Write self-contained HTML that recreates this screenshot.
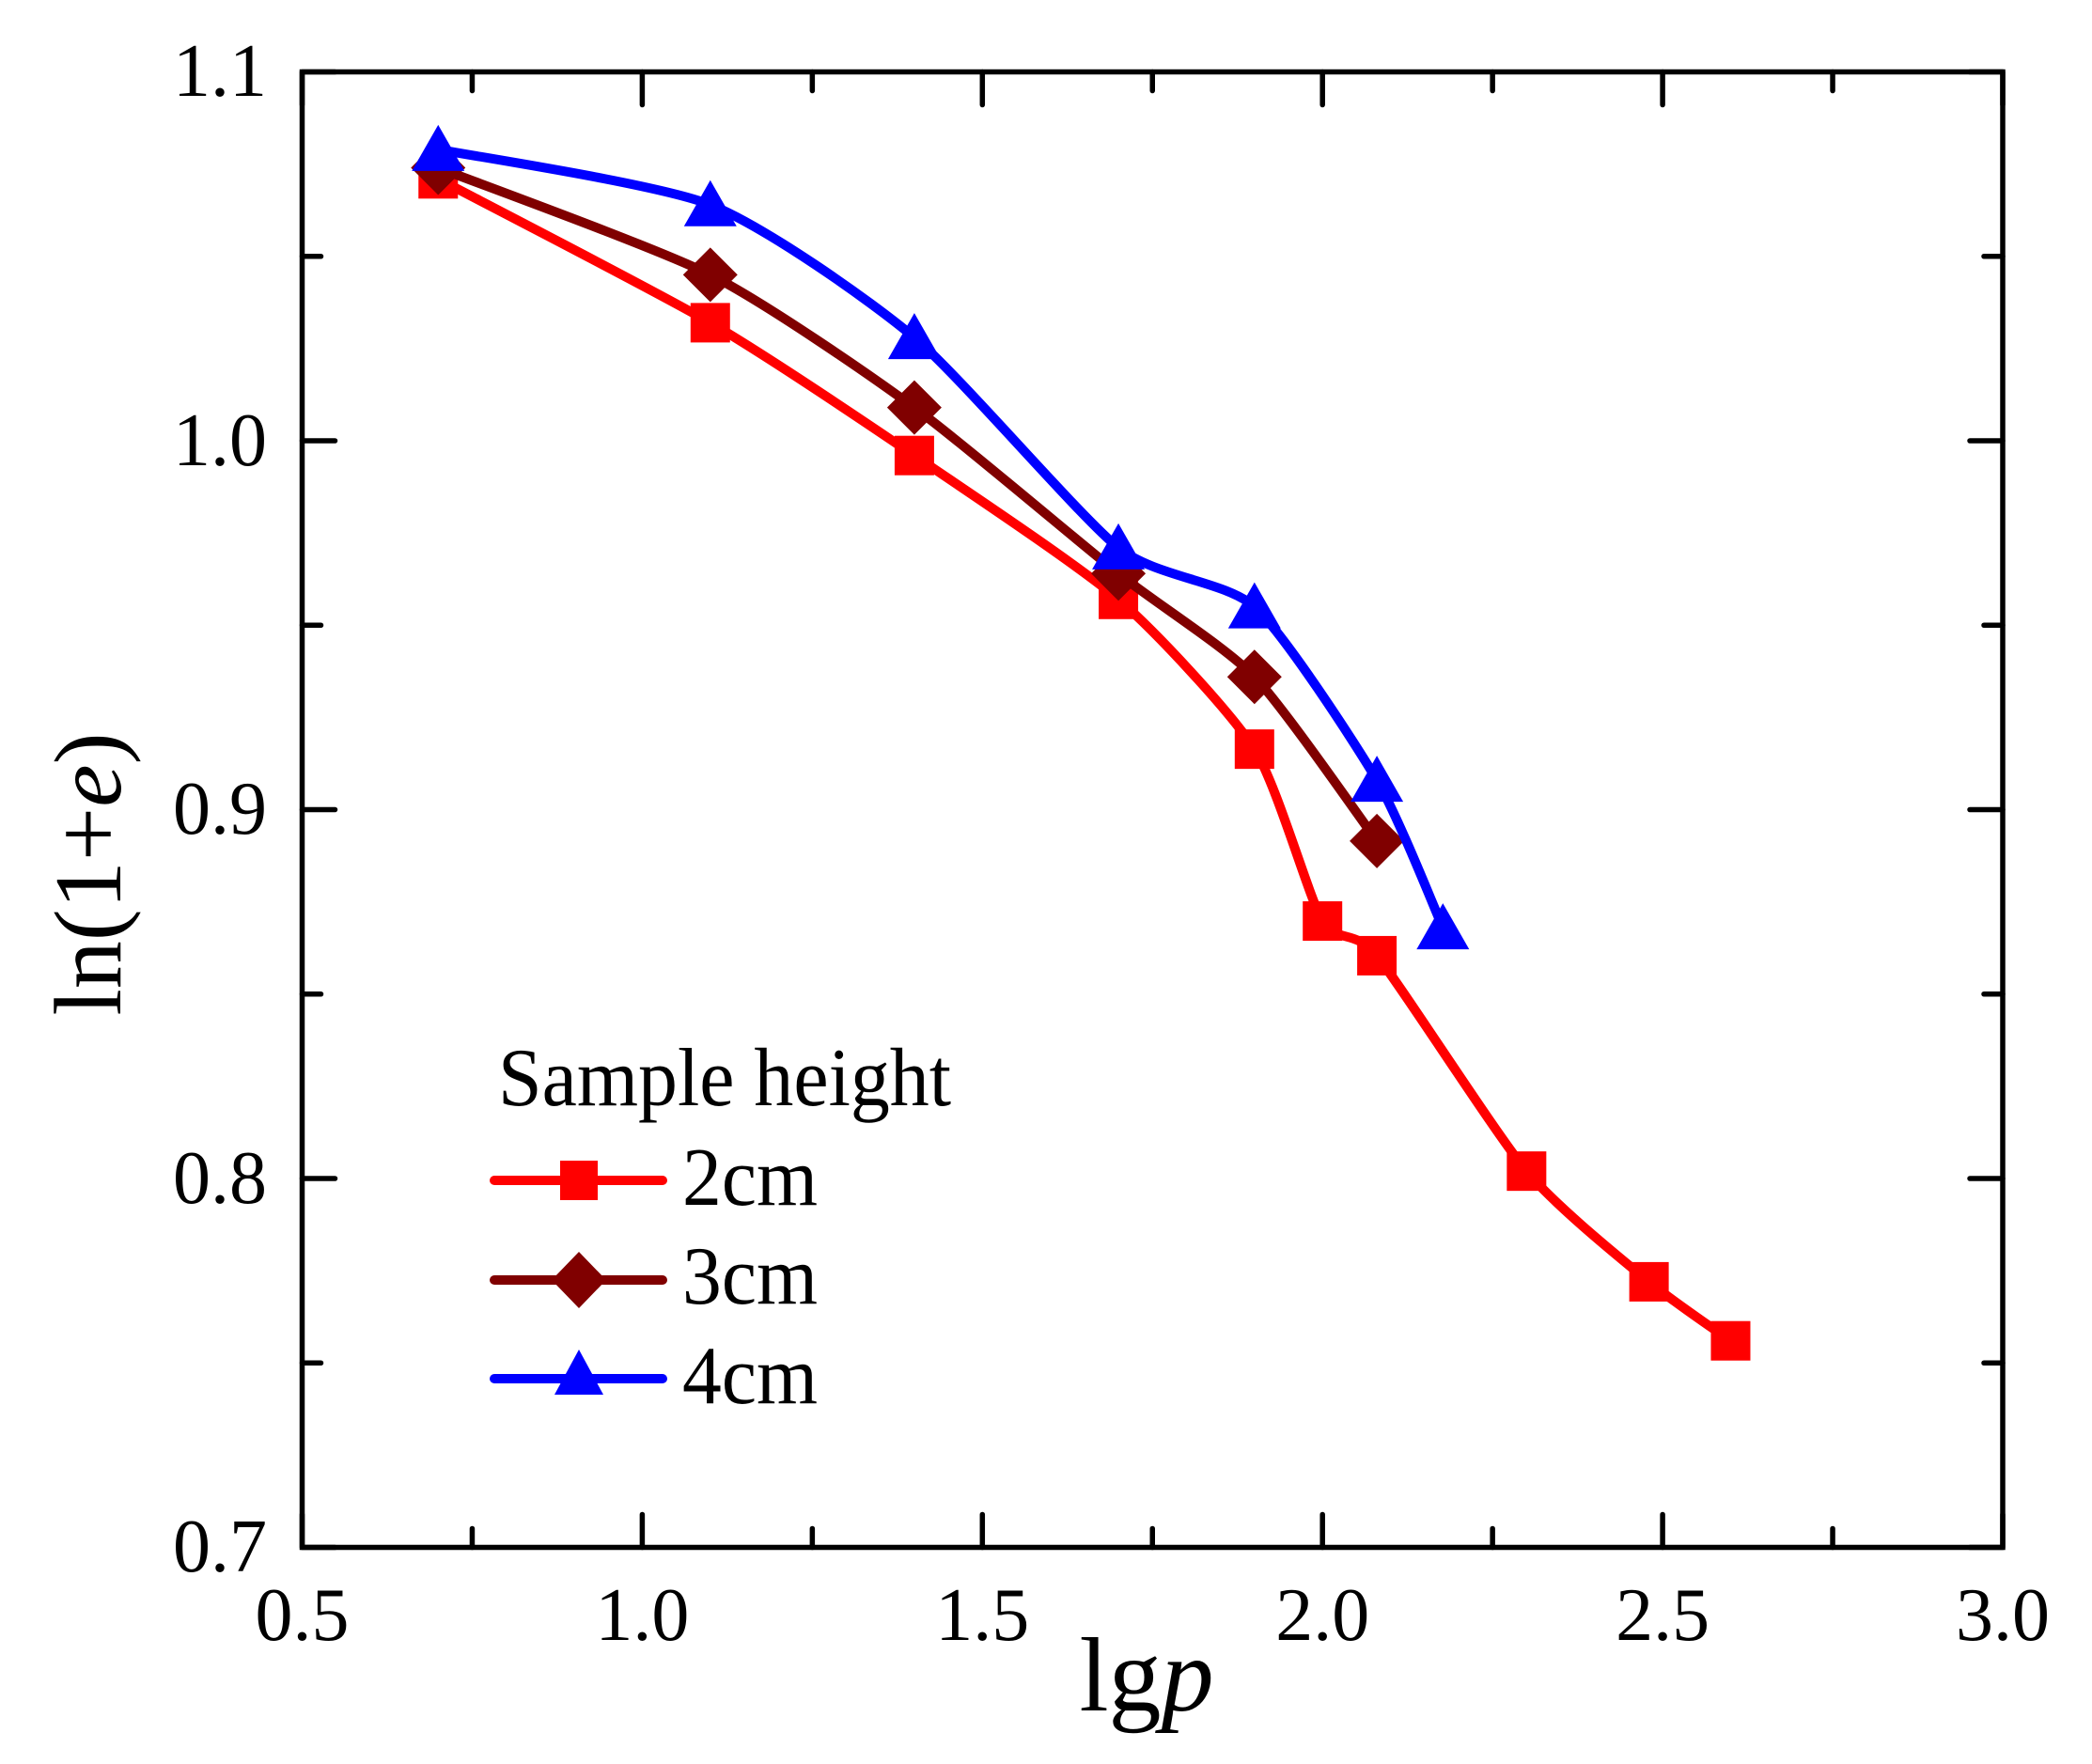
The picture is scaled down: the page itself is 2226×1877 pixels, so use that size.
<!DOCTYPE html>
<html><head><meta charset="utf-8"><style>
html,body{margin:0;padding:0;background:#fff;}
svg{display:block;}
text{font-family:"Liberation Serif",serif;fill:#000;}
</style></head><body>
<svg id="s" width="2226" height="1877" viewBox="0 0 2226 1877" xmlns="http://www.w3.org/2000/svg">
<rect width="2226" height="1877" fill="#fff"/>
<g id="plot"></g>
<rect x="321.5" y="76.5" width="1809.5" height="1570" fill="none" stroke="#000" stroke-width="5.5"/>
<g font-size="80" text-anchor="end">
<text x="284" y="102">1.1</text>
<text x="284" y="495">1.0</text>
<text x="284" y="887">0.9</text>
<text x="284" y="1280">0.8</text>
<text x="284" y="1672">0.7</text>
</g>
<g font-size="80" text-anchor="middle">
<text x="321.5" y="1745">0.5</text>
<text x="683.4" y="1745">1.0</text>
<text x="1045.3" y="1745">1.5</text>
<text x="1407.2" y="1745">2.0</text>
<text x="1769.1" y="1745">2.5</text>
<text x="2131" y="1745">3.0</text>
</g>
<text x="1220" y="1820" font-size="112" text-anchor="middle">lg<tspan font-style="italic">p</tspan></text>
<text transform="translate(128,930) rotate(-90)" font-size="102" text-anchor="middle">ln(1+<tspan font-style="italic">e</tspan>)</text>
<text x="530" y="1176" font-size="88" textLength="482" lengthAdjust="spacingAndGlyphs">Sample height</text>
<text x="726" y="1282" font-size="88" textLength="144" lengthAdjust="spacingAndGlyphs">2cm</text>
<text x="726" y="1387" font-size="88" textLength="144" lengthAdjust="spacingAndGlyphs">3cm</text>
<text x="726" y="1493" font-size="88" textLength="144" lengthAdjust="spacingAndGlyphs">4cm</text>
<g stroke-linecap="round" stroke-width="10">
<line x1="526" y1="1256" x2="705" y2="1256" stroke="#ff0000"/>
<line x1="526" y1="1362" x2="705" y2="1362" stroke="#800000"/>
<line x1="526" y1="1467" x2="705" y2="1467" stroke="#0000ff"/>
</g>
<rect x="596" y="1235" width="40" height="42" fill="#ff0000"/>
<polygon points="616,1332 645,1362 616,1392 587,1362" fill="#800000"/>
<polygon points="616,1436 642,1484 590,1484" fill="#0000ff"/>
</svg>
<script>
(function(){
var g=document.getElementById('plot');
var NS='http://www.w3.org/2000/svg';
function X(v){return 321.5+(v-0.5)*723.8;}
function Y(v){return 76.5+(1.1-v)*3925;}
function el(n,a){var e=document.createElementNS(NS,n);for(var k in a)e.setAttribute(k,a[k]);g.appendChild(e);return e;}
var t='';
for(var i=0;i<=10;i++){var x=321.5+i*180.95;var L=(i%2==0)?35:20;
 t+='M'+x+' 1646.5V'+(1646.5-L)+'M'+x+' 76.5V'+(76.5+L);}
for(var j=0;j<=8;j++){var y=76.5+j*196.25;var L=(j%2==0)?35:20;
 t+='M321.5 '+y+'H'+(321.5+L)+'M2131 '+y+'H'+(2131-L);}
el('path',{d:t,stroke:'#000','stroke-width':5.5,fill:'none','stroke-linecap':'round'});
var series=[
 {c:'#ff0000',m:'s',p:[[0.70,1.071],[1.10,1.032],[1.40,0.996],[1.70,0.957],[1.90,0.9164],[2.00,0.8698],[2.08,0.8604],[2.30,0.802],[2.48,0.772],[2.60,0.756]]},
 {c:'#800000',m:'d',p:[[0.70,1.074],[1.10,1.045],[1.40,1.009],[1.70,0.964],[1.90,0.936],[2.08,0.8915]]},
 {c:'#0000ff',m:'t',p:[[0.70,1.079],[1.10,1.064],[1.40,1.028],[1.70,0.971],[1.90,0.955],[2.08,0.908],[2.177,0.868]]}
];
var K=9;
series.forEach(function(s){
 var P=s.p.map(function(q){return [X(q[0]),Y(q[1])];});
 var d='M'+P[0][0]+' '+P[0][1];
 for(var i=0;i<P.length-1;i++){
  var p0=P[i-1]||P[i],p1=P[i],p2=P[i+1],p3=P[i+2]||P[i+1];
  var c1=[p1[0]+(p2[0]-p0[0])/K,p1[1]+(p2[1]-p0[1])/K];
  var c2=[p2[0]-(p3[0]-p1[0])/K,p2[1]-(p3[1]-p1[1])/K];
  d+='C'+c1[0]+' '+c1[1]+' '+c2[0]+' '+c2[1]+' '+p2[0]+' '+p2[1];
 }
 el('path',{d:d,stroke:s.c,'stroke-width':10,fill:'none','stroke-linejoin':'round','stroke-linecap':'round'});
 P.forEach(function(q){
  var x=q[0],y=q[1];
  if(s.m=='s')el('rect',{x:x-21,y:y-21,width:42,height:42,fill:s.c});
  else if(s.m=='d')el('polygon',{points:(x)+','+(y-29)+' '+(x+29)+','+y+' '+x+','+(y+29)+' '+(x-29)+','+y,fill:s.c});
  else el('polygon',{points:x+','+(y-26)+' '+(x+28)+','+(y+23)+' '+(x-28)+','+(y+23),fill:s.c});
 });
});
})();
</script>
</body></html>
